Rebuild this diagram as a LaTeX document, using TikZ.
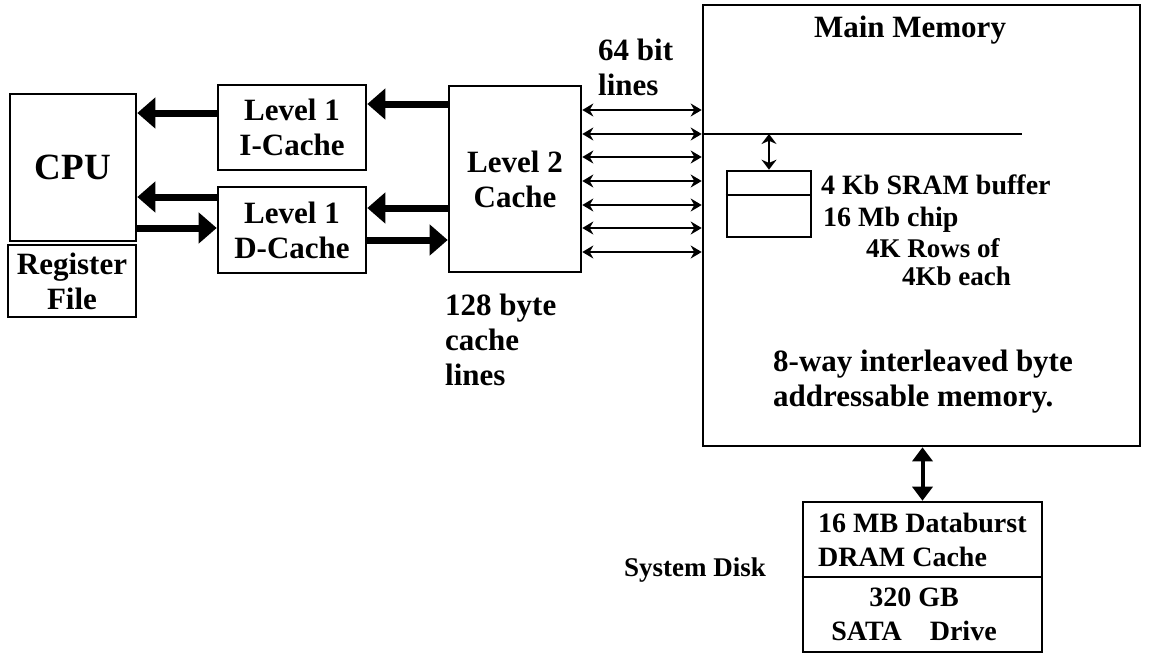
\documentclass[tikz,border=0pt]{standalone}
\usepackage{fontspec}
\setmainfont{Liberation Serif}
\usetikzlibrary{arrows.meta}
\begin{document}
\begin{tikzpicture}[x=1pt,y=-1pt,
  box/.style={draw,line width=2.6pt,inner sep=0pt},
  lbl/.style={font=\bfseries\fontsize{31}{35}\selectfont,inner sep=0pt},
  sml/.style={font=\bfseries\fontsize{28}{34}\selectfont,inner sep=0pt},
  fat/.style={line width=7pt,-{Triangle[length=18pt,width=30pt]}},
  bus/.style={line width=2.4pt,{Stealth[length=11pt,width=13pt]}-{Stealth[length=11pt,width=13pt]}},
  thin/.style={line width=2.4pt}]
\useasboundingbox (0,0) rectangle (1154,653);
% boxes
\node[box,minimum width=126pt,minimum height=147pt,font=\bfseries\fontsize{37}{40}\selectfont] (cpu) at (73,167.5) {CPU};
\node[box,minimum width=128pt,minimum height=72pt,lbl,align=center] (reg) at (72,281) {Register\\File};
\node[box,minimum width=148pt,minimum height=85pt,lbl,align=center] (l1i) at (292,127.5) {Level 1\\I-Cache};
\node[box,minimum width=148pt,minimum height=86pt,lbl,align=center] (l1d) at (292,230) {Level 1\\D-Cache};
\node[box,minimum width=132pt,minimum height=186pt,lbl,align=center] (l2) at (515,179) {Level 2\\Cache};
\node[box,minimum width=437pt,minimum height=441pt] (mem) at (921.5,225.5) {};
\node[box,minimum width=84pt,minimum height=66pt] (sram) at (769,204) {};
\node[box,minimum width=239pt,minimum height=150pt] (disk) at (922.5,577) {};
% dividers
\coordinate (sd) at (769,195);
\draw[thin] (sram.west |- sd) -- (sram.east |- sd);
\coordinate (dd) at (922.5,577);
\draw[thin] (disk.west |- dd) -- (disk.east |- dd);
% fat arrows
\draw[fat] ([yshift=75pt]l2.west) -- ([yshift=75pt]l2.west -| l1i.east);
\draw[fat] ([yshift=14.5pt]l1i.west) -- ([yshift=14.5pt]l1i.west -| cpu.east);
\draw[fat] ([yshift=33pt]l1d.west) -- ([yshift=33pt]l1d.west -| cpu.east);
\draw[fat] ([yshift=2pt]cpu.east |- l1d.west) -- ([yshift=2pt]l1d.west);
\draw[fat] ([yshift=-29pt]l2.west) -- ([yshift=-29pt]l2.west -| l1d.east);
\draw[fat] ([yshift=-10pt]l1d.east) -- ([yshift=-10pt]l1d.east -| l2.west);
% bus
\foreach \y in {110,134,157,181,205,228,252}
  \draw[bus] (l2.east |- 0,\y) -- (mem.west |- 0,\y);
\coordinate (hl) at (1022,134);
\draw[thin] (mem.west |- hl) -- (hl);
\draw[line width=2.4pt,{Stealth[length=10pt,width=15pt]}-{Stealth[length=10pt,width=15pt]}] (sram.north |- hl) -- (sram.north);
\draw[line width=4pt,{Triangle[length=14pt,width=20pt]}-{Triangle[length=14pt,width=20pt]}] (mem.south -| disk.north) -- (disk.north);
% labels
\node[lbl,align=left,anchor=west] (bits) at (598,67) {64 bit\\lines};
\node[lbl] (mmt) at (910,30) {Main Memory};
\node[lbl,align=left,anchor=west] (cl) at (445,340) {128 byte\\cache\\lines};
\node[lbl,align=left,anchor=west] (il) at (773,382) {8-way interleaved byte\\addressable memory.};
\node[sml,anchor=west] (s1) at (821,185) {4 Kb SRAM buffer};
\node[sml,anchor=west] (s2) at (823,220) {16 Mb chip};
\node[sml,anchor=west,font=\bfseries\fontsize{27}{30}\selectfont] (s3) at (866,248) {4K Rows of};
\node[sml,anchor=west,font=\bfseries\fontsize{27}{30}\selectfont] (s4) at (902,276) {4Kb each};
\node[sml,align=left,anchor=west] (d1) at (818,540) {16 MB Databurst\\DRAM Cache};
\node[sml,align=center] (d2) at (914,614) {320 GB\\SATA\quad Drive};
\node[font=\bfseries\fontsize{27}{30}\selectfont,inner sep=0pt,anchor=west] (sys) at (624,570) {System Disk};
\end{tikzpicture}
\end{document}
